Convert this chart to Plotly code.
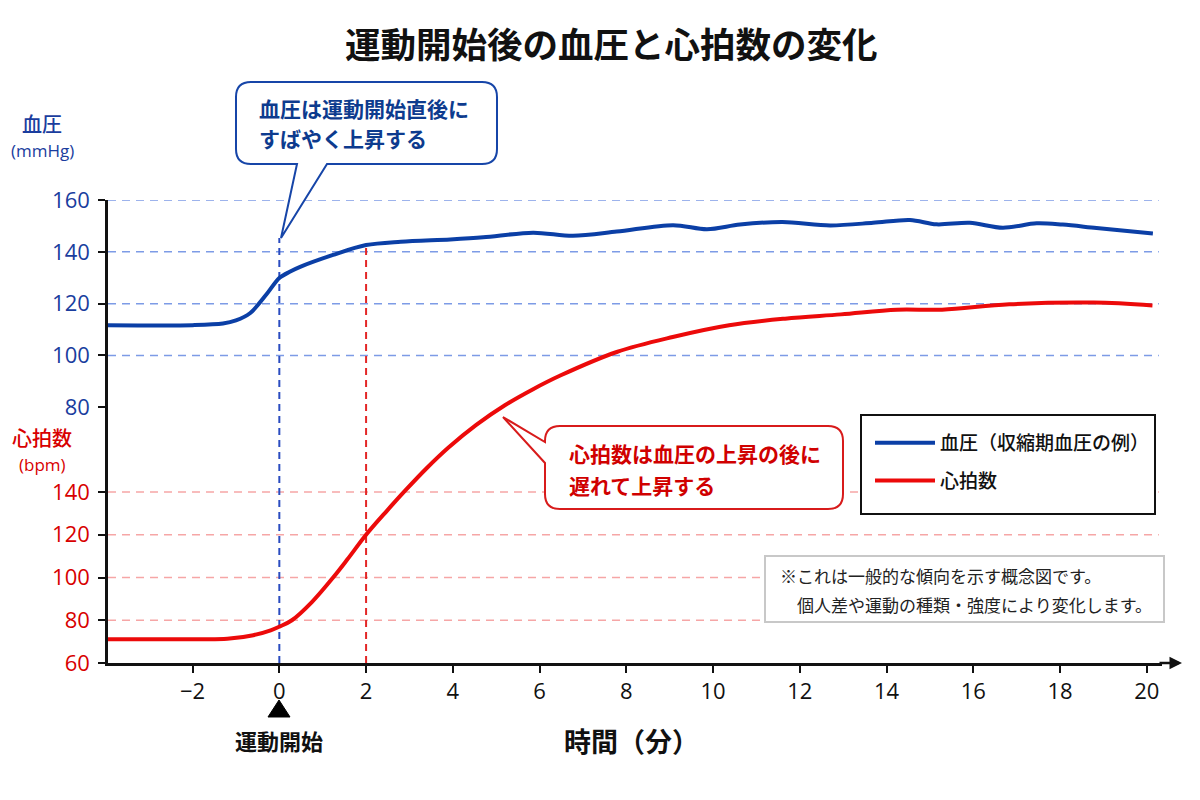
import plotly.graph_objects as go

# ---------------- data ----------------
TIME_BP = [-3.95, -2.0, -1.3, -1.0, -0.67, -0.3, 0.0, 0.24, 0.48, 1.24, 2.0, 2.8, 3.94, 4.7,
           5.85, 6.77, 7.78, 9.08, 9.86, 10.62, 11.6, 12.7, 13.69, 14.54, 15.15, 15.92,
           16.68, 17.46, 18.06, 18.84, 20.14]
BP = [111.7, 111.7, 112.3, 113.5, 116.4, 123.5, 129.9, 132.3, 134.2, 138.8, 142.6, 143.9, 144.8, 145.6,
      147.4, 146.2, 147.8, 150.3, 148.7, 150.5, 151.5, 150.2, 151.2, 152.3, 150.6, 151.2,
      149.3, 151.0, 150.5, 149.2, 147.1]

TIME_HR = [-3.95, -2.0, -1.2, -0.6, -0.2, 0.0, 0.29, 0.75, 1.24, 1.57, 2.0, 2.48, 2.9, 3.39,
           3.9, 4.54, 5.2, 5.84, 6.49, 7.78, 9.07, 10.37, 11.66, 12.95, 14.24, 15.28, 16.83,
           18.77, 20.13]
HR = [71.1, 71.1, 71.3, 73.0, 75.3, 77.0, 80.0, 88.5, 100.0, 108.5, 120.0, 131.2, 140.6, 151.0,
      160.8, 171.4, 180.6, 188.0, 194.6, 205.5, 212.5, 218.0, 221.1, 223.1, 225.3, 225.3, 227.8,
      228.6, 227.3]

X_TICKS = [-2, 0, 2, 4, 6, 8, 10, 12, 14, 16, 18, 20]
BP_TICKS = [80, 100, 120, 140, 160]
HR_TICKS = [60, 80, 100, 120, 140]
BP_GRID = [100, 120, 140, 160]
HR_GRID = [80, 100, 120, 140]

BP_NAME = "血圧（収縮期血圧の例）"
HR_NAME = "心拍数"
TITLE = "運動開始後の血圧と心拍数の変化"
X_TITLE = "時間（分）"
START_LABEL = "運動開始"
BP_CALLOUT = ["血圧は運動開始直後に", "すばやく上昇する"]
HR_CALLOUT = ["心拍数は血圧の上昇の後に", "遅れて上昇する"]
NOTE = ["※これは一般的な傾向を示す概念図です。", "　個人差や運動の種類・強度により変化します。"]

# ---------------- layout geometry (page pixels; page has an 8px body margin) ----------------
OFF = 8
W, H = 1200 - 2 * OFF, 800 - 2 * OFF
P_LEFT, P_RIGHT, P_TOP, P_BOTTOM = 108, 1162, 200, 663      # plot area in page pixels
ML, MR = P_LEFT - OFF, W - (P_RIGHT - OFF)
MT, MB = P_TOP - OFF, H - (P_BOTTOM - OFF)
PW, PH = P_RIGHT - P_LEFT, P_BOTTOM - P_TOP
X_RANGE = [-3.95, 20.35]
BP_PX = 2.591      # px per mmHg
HR_PX = 2.1375     # px per bpm
BP_RANGE = [160 - PH / BP_PX, 160]
HR_RANGE = [60, 60 + PH / HR_PX]

FONT = "Noto Sans CJK JP"
NUM_FONT = "Open Sans"
BP_COLOR = "#0b3fa6"
HR_COLOR = "#ec0a0a"
BP_TXT = "#1a3d9e"
HR_TXT = "#d80000"


def px(xp):
    return (xp - P_LEFT) / PW


def py(yp):
    return (P_BOTTOM - yp) / PH


def P(a, b):
    return f"{px(a):.5f},{py(b):.5f}"


def bubble(x0, y0, x1, y1, r, tail, side):
    """Rounded rectangle callout with a tail; page pixel coords -> paper path."""
    d = f"M{P(x0 + r, y0)} L{P(x1 - r, y0)} Q{P(x1, y0)} {P(x1, y0 + r)} "
    d += f"L{P(x1, y1 - r)} Q{P(x1, y1)} {P(x1 - r, y1)} "
    if side == "bottom":
        (a1, b1), (tx, ty), (a2, b2) = tail
        d += f"L{P(a1, b1)} L{P(tx, ty)} L{P(a2, b2)} "
    d += f"L{P(x0 + r, y1)} Q{P(x0, y1)} {P(x0, y1 - r)} "
    if side == "left":
        (a1, b1), (tx, ty), (a2, b2) = tail
        d += f"L{P(a1, b1)} L{P(tx, ty)} L{P(a2, b2)} "
    d += f"L{P(x0, y0 + r)} Q{P(x0, y0)} {P(x0 + r, y0)} Z"
    return d


fig = go.Figure()
fig.add_trace(go.Scatter(x=TIME_BP, y=BP, name=BP_NAME, mode="lines", yaxis="y", legendgroup="bp",
                         line=dict(color=BP_COLOR, width=4, shape="spline", smoothing=0.9)))
fig.add_trace(go.Scatter(x=TIME_HR, y=HR, name=HR_NAME, mode="lines", yaxis="y2", legendgroup="hr",
                         line=dict(color=HR_COLOR, width=4, shape="spline", smoothing=1.0)))

shapes = []
for v in BP_GRID:
    shapes.append(dict(type="line", xref="paper", x0=0, x1=0.997, yref="y", y0=v, y1=v,
                       line=dict(color="#7d9be6", width=1.5, dash="8px,6px"), layer="below"))
for v in HR_GRID:
    shapes.append(dict(type="line", xref="paper", x0=0, x1=0.997, yref="y2", y0=v, y1=v,
                       line=dict(color="#f6a6a6", width=1.5, dash="8px,6px"), layer="below"))
# vertical markers
shapes.append(dict(type="line", xref="x", x0=0, x1=0, yref="y", y0=BP_RANGE[0], y1=145.3,
                   line=dict(color="#2a4cc0", width=2, dash="7px,5px"), layer="below"))
shapes.append(dict(type="line", xref="x", x0=2, x1=2, yref="y", y0=BP_RANGE[0], y1=142.2,
                   line=dict(color="#e32626", width=2, dash="7px,5px"), layer="below"))
# callout bubbles
shapes.append(dict(type="path", xref="paper", yref="paper",
                   path=bubble(236, 82, 497, 164, 15, [(327, 164), (281, 238), (297, 164)], "bottom"),
                   line=dict(color="#1645a8", width=2), fillcolor="white", layer="above"))
shapes.append(dict(type="path", xref="paper", yref="paper",
                   path=bubble(545, 426, 843, 509, 15, [(545, 463), (503, 417), (545, 442)], "left"),
                   line=dict(color="#d81b1b", width=2), fillcolor="white", layer="above"))
# legend frame
shapes.append(dict(type="rect", xref="paper", yref="paper",
                   x0=px(861), x1=px(1155), y0=py(514), y1=py(415),
                   line=dict(color="#111", width=2), fillcolor="white", layer="above"))
# note frame
shapes.append(dict(type="rect", xref="paper", yref="paper",
                   x0=px(765), x1=px(1164), y0=py(622), y1=py(556),
                   line=dict(color="#c8c8c8", width=2), fillcolor="white", layer="above"))
# start marker triangle under x = 0
shapes.append(dict(type="path", xref="paper", yref="paper",
                   path=f"M{P(268, 717)} L{P(290, 717)} L{P(279, 700)} Z",
                   line=dict(color="#000", width=1), fillcolor="#000", layer="above"))

ann = []
# axis arrow head at the end of the x axis
ann.append(dict(x=px(1182), xref="paper", y=0, yref="paper", ax=-24, ay=0, text="",
                showarrow=True, arrowhead=2, arrowsize=1, arrowwidth=2.5, arrowcolor="#111"))


def label(xp, yp, text, size, color, family=FONT, weight=None, xanchor="center"):
    f = dict(size=size, color=color, family=family)
    if weight:
        f["weight"] = weight
    return dict(x=px(xp), y=py(yp), xref="paper", yref="paper", text=text, showarrow=False,
                xanchor=xanchor, yanchor="middle", font=f)


ann.append(label(611, 42, f"<b>{TITLE}</b>", 35.5, "#111"))
ann.append(label(631, 740, f"<b>{X_TITLE}</b>", 27, "#111"))
ann.append(dict(x=0, xref="x", y=py(740), yref="paper", text=f"<b>{START_LABEL}</b>",
                showarrow=False, xanchor="center", yanchor="middle",
                font=dict(size=22, color="#111", family=FONT)))
ann.append(label(42, 123, "血圧", 20, BP_TXT, weight=500))
ann.append(label(42, 150, "(mmHg)", 17, BP_TXT, family=NUM_FONT))
ann.append(label(42, 437, "心拍数", 20, HR_TXT, weight=500))
ann.append(label(42, 465, "(bpm)", 17, HR_TXT, family=NUM_FONT))
for i, t in enumerate(BP_CALLOUT):
    ann.append(label(257, 108 + 30 * i, t, 21, "#0d3b8e", weight=600, xanchor="left"))
for i, t in enumerate(HR_CALLOUT):
    ann.append(label(567, 453 + 32 * i, t, 21, "#d00000", weight=600, xanchor="left"))
for i, t in enumerate(NOTE):
    ann.append(label(778, 575 + 29 * i, t, 17, "#222", xanchor="left"))

fig.update_layout(
    width=W, height=H,
    margin=dict(l=ML, r=MR, t=MT, b=MB),
    paper_bgcolor="white", plot_bgcolor="white",
    font=dict(family=FONT, color="#111"),
    showlegend=True,
    legend=dict(x=px(870), y=py(424), xanchor="left", yanchor="top",
                bgcolor="rgba(0,0,0,0)", borderwidth=0,
                font=dict(size=19, color="#111", family=FONT, weight=500),
                itemwidth=60, tracegroupgap=10),
    xaxis=dict(range=X_RANGE, tickvals=X_TICKS, ticks="outside", ticklen=7, tickwidth=2,
               tickcolor="#111", showline=True, linecolor="#111", linewidth=2.5,
               showgrid=False, zeroline=False, ticklabelstandoff=0,
               tickfont=dict(size=22, color="#111", family=NUM_FONT)),
    yaxis=dict(range=BP_RANGE, tickvals=BP_TICKS, ticks="outside", ticklen=7, tickwidth=2,
               tickcolor="#111", showline=True, linecolor="#111", linewidth=2.5,
               showgrid=False, zeroline=False, ticklabelstandoff=4,
               tickfont=dict(size=22, color=BP_TXT, family=NUM_FONT)),
    yaxis2=dict(range=HR_RANGE, tickvals=HR_TICKS, overlaying="y", side="left",
                ticks="outside", ticklen=7, tickwidth=2, tickcolor="#111",
                showline=True, linecolor="#111", linewidth=2.5,
                showgrid=False, zeroline=False, ticklabelstandoff=4,
                tickfont=dict(size=22, color=HR_TXT, family=NUM_FONT)),
    shapes=shapes,
    annotations=ann,
)

fig.write_html("out.html")
